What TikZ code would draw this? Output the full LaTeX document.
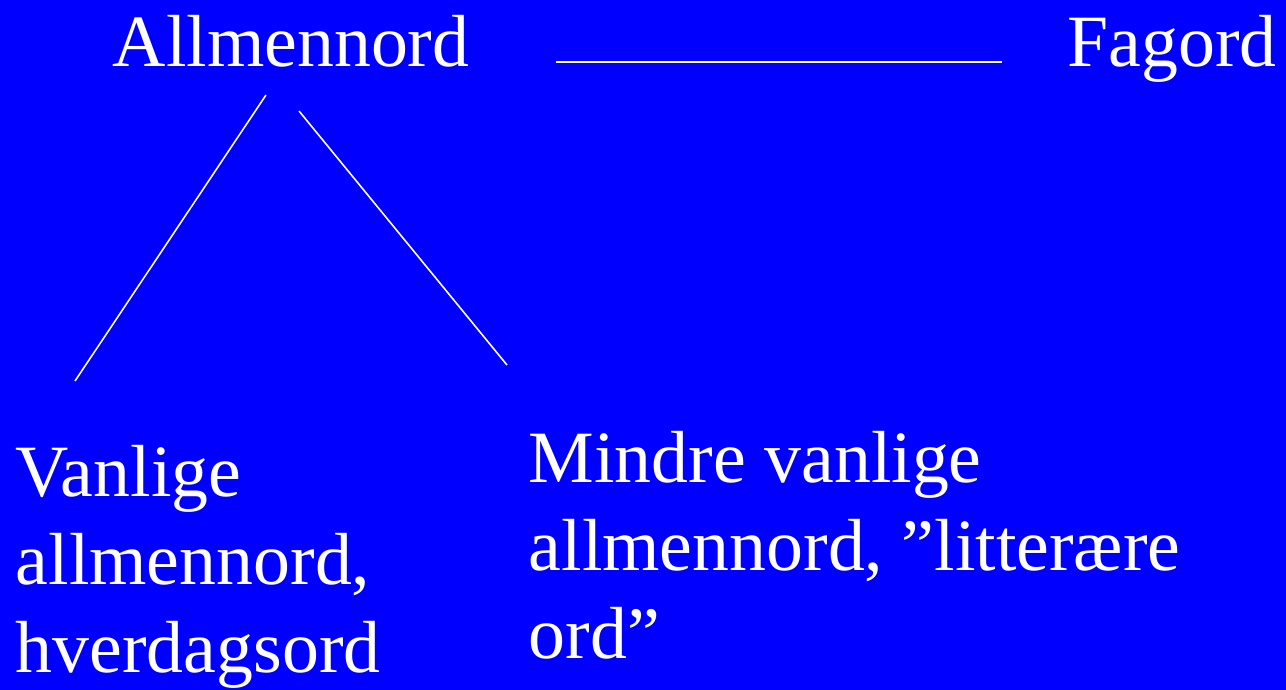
\documentclass[tikz,border=0pt]{standalone}
\usepackage{fontspec}
\setmainfont{Liberation Serif}

\begin{document}
\begin{tikzpicture}[x=0.02cm, y=-0.02cm, white, line width=0.9pt]
  \tikzset{
    word/.style={inner sep=0pt, anchor=base west, align=left,
                 font=\fontsize{42}{50}\selectfont}
  }
  % bakgrunn
  \fill[blue] (0,0) rectangle (1286,690);
  \useasboundingbox (0,0) rectangle (1286,690);

  % overskrifter
  \node[word] (allmenn) at (112,66) {Allmennord};
  \node[word] (fag) at (1067,66) {Fagord};

  % underbegreper (base = siste linje)
  \node[word] (vanlige) at (15,672) {Vanlige\\allmennord,\\hverdagsord};
  \node[word] (mindre) at (528,658) {Mindre vanlige\\allmennord, ”litterære\\ord”};

  % endepunkter for strekene
  \coordinate (h1) at (556,62);
  \coordinate (h2) at (1002,62);
  \coordinate (l1) at (266,95);
  \coordinate (l2) at (75,381);
  \coordinate (r1) at (299,111);
  \coordinate (r2) at (507,365);

  \draw (h1) -- (h2);
  \draw (l1) -- (l2);
  \draw (r1) -- (r2);
\end{tikzpicture}
\end{document}
